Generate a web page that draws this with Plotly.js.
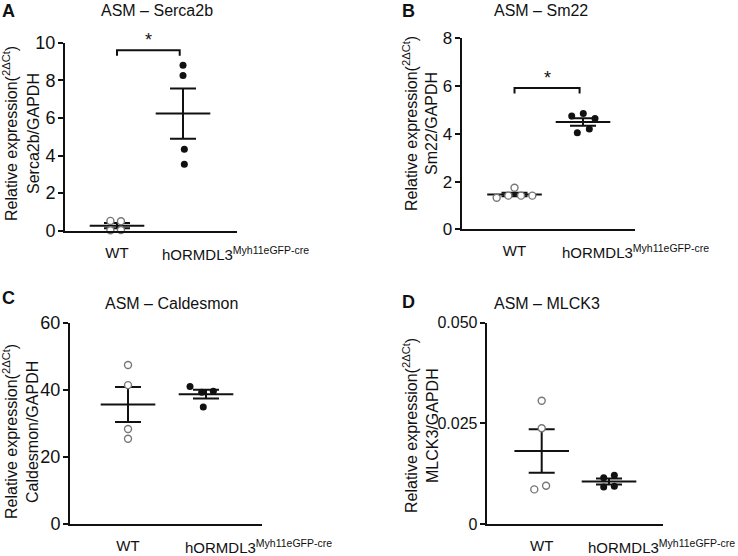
<!DOCTYPE html>
<html>
<head>
<meta charset="utf-8">
<script src="https://cdn.plot.ly/plotly-3.0.1.min.js"></script>
<style>html,body{margin:0;padding:0;background:#fff}#chart{width:738px;height:556px}</style>
</head>
<body>
<div id="chart"></div>
<script>
// ---------------- data ----------------
const groupNames = ['WT', 'hORMDL3<sup>Myh11eGFP-cre</sup>'];
const panelLetters = ['A', 'B', 'C', 'D'];
const panelTitles = ['ASM – Serca2b', 'ASM – Sm22', 'ASM – Caldesmon', 'ASM – MLCK3'];
const yTitleLine1 = 'Relative expression(<sup>2ΔCt</sup>)';
const yTitleLine2 = ['Serca2b/GAPDH', 'Sm22/GAPDH', 'Caldesmon/GAPDH', 'MLCK3/GAPDH'];

const serca2bWT   = [0.52, 0.50, 0.02, 0.03];
const serca2bHOR  = [8.80, 8.25, 4.33, 3.53];
const sm22WT      = [1.32, 1.41, 1.74, 1.41, 1.41];
const sm22HOR     = [4.75, 4.85, 4.64, 4.04, 4.20];
const caldesmonWT = [47.4, 41.4, 28.3, 25.4];
const caldesmonHOR= [41.0, 39.3, 39.6, 34.9];
const mlck3WT     = [0.0306, 0.0238, 0.0086, 0.0095];
const mlck3HOR    = [0.0115, 0.0121, 0.0092, 0.0094];

const yTickVals = [[0,2,4,6,8,10],[0,2,4,6,8],[0,20,40,60],[0,0.025,0.05]];
const yTickText = [['0','2','4','6','8','10'],['0','2','4','6','8'],['0','20','40','60'],['0','0.025','0.050']];
const significant = [true, true, false, false];

// ---------------- layout helpers (positions / styles) ----------------
const W = 738, H = 556;
const px = x => x / W, py = y => 1 - y / H;
const FONT = 'Liberation Sans, Arial, sans-serif';
const INK = '#111';

// horizontal scatter of dots within a group (x offsets, in category units)
const jitter = [
  {wt: [-0.10, 0.06, -0.10, 0.06], hor: [0, 0, 0.02, 0.02]},
  {wt: [-0.26, -0.09, 0.0, 0.095, 0.26], hor: [-0.165, 0.004, 0.175, -0.083, 0.092]},
  {wt: [0, 0, 0, 0], hor: [-0.205, -0.055, 0.094, -0.035]},
  {wt: [0, 0, -0.11, 0.065], hor: [-0.079, 0.079, -0.079, 0.079]}
];
// pixel frame of each panel: left, right, top, bottom of the plot area
const frames = [
  {l: 65, r: 237, t: 42.7, b: 230.7, xr: [0.212, 2.818], yr: [0, 10]},
  {l: 461.7, r: 635, t: 38.3, b: 229.3, xr: [0.229, 2.759], yr: [0, 8]},
  {l: 70, r: 262, t: 322.7, b: 524, xr: [0.256, 2.718], yr: [0, 60]},
  {l: 486.7, r: 663, t: 322.7, b: 524, xr: [0.183, 2.802], yr: [0, 0.05]}
];
const tickFontSize = [18, 17, 18, 16];
const letterPos = [[8, 11], [408, 11], [8, 298], [408, 302]];
const titlePos = [[157, 11], [541, 11], [171, 303], [547, 303]];
const yTitlePos = [[10, 33, 134], [410, 432, 124], [10, 32, 432], [410, 432, 426]];
const bracket = [{y: 9.6, drop: 0.3}, {y: 5.92, drop: 0.23}];

const dataSets = [[serca2bWT, serca2bHOR], [sm22WT, sm22HOR], [caldesmonWT, caldesmonHOR], [mlck3WT, mlck3HOR]];

const mean = a => a.reduce((s, v) => s + v, 0) / a.length;
const sem = a => { const m = mean(a); const v = a.reduce((s, x) => s + (x - m) * (x - m), 0) / (a.length - 1); return Math.sqrt(v / a.length); };

const traces = [];
const layout = {
  width: W, height: H, margin: {l: 0, r: 0, t: 0, b: 0},
  paper_bgcolor: '#fff', plot_bgcolor: '#fff', showlegend: false,
  font: {family: FONT, color: INK, size: 15},
  annotations: [], shapes: []
};

dataSets.forEach((ds, i) => {
  const n = i === 0 ? '' : String(i + 1);
  const xa = 'x' + n, ya = 'y' + n;
  const f = frames[i];
  // mean ± SEM (drawn first, dots on top)
  ds.forEach((vals, g) => {
    traces.push({
      type: 'scatter', mode: 'markers', xaxis: xa, yaxis: ya, cliponaxis: false, hoverinfo: 'skip',
      x: [g + 1], y: [mean(vals)],
      marker: {symbol: 'line-ew', size: 39, color: INK, line: {width: 2, color: INK}},
      error_y: {type: 'data', array: [sem(vals)], visible: true, color: INK, thickness: 2, width: 13}
    });
  });
  // individual values
  ds.forEach((vals, g) => {
    const off = g === 0 ? jitter[i].wt : jitter[i].hor;
    traces.push({
      type: 'scatter', mode: 'markers', xaxis: xa, yaxis: ya, cliponaxis: false,
      x: vals.map((v, k) => g + 1 + off[k]), y: vals,
      marker: g === 0
        ? {symbol: 'circle', size: 7, color: '#fff', line: {width: 1.4, color: '#777'}}
        : {symbol: 'circle', size: 7, color: INK, line: {width: 0}}
    });
  });

  layout['xaxis' + n] = {
    domain: [px(f.l), px(f.r)], anchor: ya, range: f.xr,
    showline: true, linewidth: 2, linecolor: INK, ticks: '', showgrid: false, zeroline: false,
    tickvals: [1], ticktext: [groupNames[0]], tickfont: {size: 15, family: FONT, color: INK},
    ticklabelstandoff: 7, fixedrange: true
  };
  layout['yaxis' + n] = {
    domain: [py(f.b), py(f.t)], anchor: xa, range: f.yr,
    showline: true, linewidth: 2, linecolor: INK, ticks: 'outside', ticklen: 5, tickwidth: 2, tickcolor: INK,
    showgrid: false, zeroline: false, tickvals: yTickVals[i], ticktext: yTickText[i],
    tickfont: {size: tickFontSize[i], family: FONT, color: INK}, ticklabelstandoff: -1, fixedrange: true
  };
  // second group label (left-anchored like the reference)
  layout.annotations.push({
    xref: xa, yref: ya, x: 2, y: 0, xanchor: 'left', yanchor: 'top', xshift: -23, yshift: -11,
    text: groupNames[1], showarrow: false, font: {size: 15, family: FONT, color: INK}
  });
  // panel letter
  layout.annotations.push({
    xref: 'paper', yref: 'paper', x: px(letterPos[i][0]), y: py(letterPos[i][1]), xanchor: 'center', yanchor: 'middle',
    text: '<b>' + panelLetters[i] + '</b>', showarrow: false, font: {size: 18, family: FONT, color: INK}
  });
  // panel title
  layout.annotations.push({
    xref: 'paper', yref: 'paper', x: px(titlePos[i][0]), y: py(titlePos[i][1]), xanchor: 'center', yanchor: 'middle',
    text: panelTitles[i], showarrow: false, font: {size: 16, family: FONT, color: INK}
  });
  // y-axis title (two lines)
  layout.annotations.push({
    xref: 'paper', yref: 'paper', x: px(yTitlePos[i][0]), y: py(yTitlePos[i][2]), xanchor: 'center', yanchor: 'middle',
    text: yTitleLine1, textangle: -90, showarrow: false, font: {size: 16, family: FONT, color: INK}
  });
  layout.annotations.push({
    xref: 'paper', yref: 'paper', x: px(yTitlePos[i][1]), y: py(yTitlePos[i][2]), xanchor: 'center', yanchor: 'middle',
    text: yTitleLine2[i], textangle: -90, showarrow: false, font: {size: 16, family: FONT, color: INK}
  });
  // significance bracket
  if (significant[i]) {
    const b = bracket[i];
    layout.shapes.push({
      type: 'path', xref: xa, yref: ya, line: {color: INK, width: 2},
      path: `M 1 ${b.y - b.drop} L 1 ${b.y} L 1.95 ${b.y} L 1.95 ${b.y - b.drop}`
    });
    layout.annotations.push({
      xref: xa, yref: ya, x: 1.475, y: b.y, xanchor: 'center', yanchor: 'bottom', yshift: -2,
      text: '*', showarrow: false, font: {size: 18, family: FONT, color: INK}
    });
  }
});

Plotly.newPlot('chart', traces, layout, {staticPlot: true, displayModeBar: false});
</script>
</body>
</html>
